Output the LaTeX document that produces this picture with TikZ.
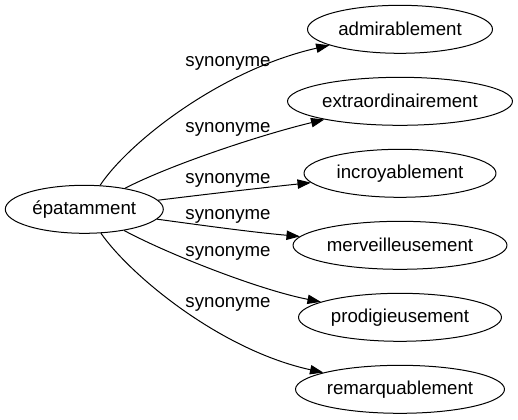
\documentclass[tikz,border=0pt]{standalone}
\usepackage{fontspec}
\setmainfont{Liberation Sans}
\usetikzlibrary{arrows.meta, shapes.geometric}

\begin{document}
\begin{tikzpicture}[>={Triangle[length=10pt,width=7pt]}, line join=bevel, x=0.75pt, y=-0.75pt,
    word/.style={ellipse, draw, inner sep=0pt, minimum height=36pt, line width=.75pt,
      font=\fontsize{14pt}{16pt}\selectfont},
    rel/.style={inner sep=0pt, font=\fontsize{14pt}{16pt}\selectfont},
    link/.style={->, line width=.75pt}]
  \useasboundingbox (0,0) rectangle (518,419);
%%
  % Node: epatamment
  \node[word, minimum width=118.5pt] (epat) at (84.3,209.3) {épatamment};
  % Node: admirablement
  \node[word, minimum width=138.75pt] (admir) at (400,29.3) {admirablement};
  % Node: extraordinairement
  \node[word, minimum width=168.75pt] (extra) at (400,101.3) {extraordinairement};
  % Node: incroyablement
  \node[word, minimum width=144pt] (incro) at (400,173.3) {incroyablement};
  % Node: merveilleusement
  \node[word, minimum width=160.5pt] (merve) at (400,245.3) {merveilleusement};
  % Node: prodigieusement
  \node[word, minimum width=152.25pt] (prodi) at (400,317.3) {prodigieusement};
  % Node: remarquablement
  \node[word, minimum width=156.75pt] (remar) at (400,389.3) {remarquablement};
%%
  % Edge: epat -> admir
  \draw[link] (epat) .. controls (128,143) and (220,70) .. (admir);
  \node[rel] (syn1) at (228,63) {synonyme};
  % Edge: epat -> extra
  \draw[link] (epat) .. controls (170,165) and (260,135) .. (extra);
  \node[rel] (syn2) at (228,129) {synonyme};
  % Edge: epat -> incro
  \draw[link] (epat) .. controls (200,195) and (260,188) .. (incro);
  \node[rel] (syn3) at (228,180) {synonyme};
  % Edge: epat -> merve
  \draw[link] (epat) .. controls (200,225) and (250,232) .. (merve);
  \node[rel] (syn4) at (228,216) {synonyme};
  % Edge: epat -> prodi
  \draw[link] (epat) .. controls (170,255) and (260,290) .. (prodi);
  \node[rel] (syn5) at (228,253) {synonyme};
  % Edge: epat -> remar
  \draw[link] (epat) .. controls (130,275) and (220,350) .. (remar);
  \node[rel] (syn6) at (228,304) {synonyme};
%
\end{tikzpicture}
\end{document}
